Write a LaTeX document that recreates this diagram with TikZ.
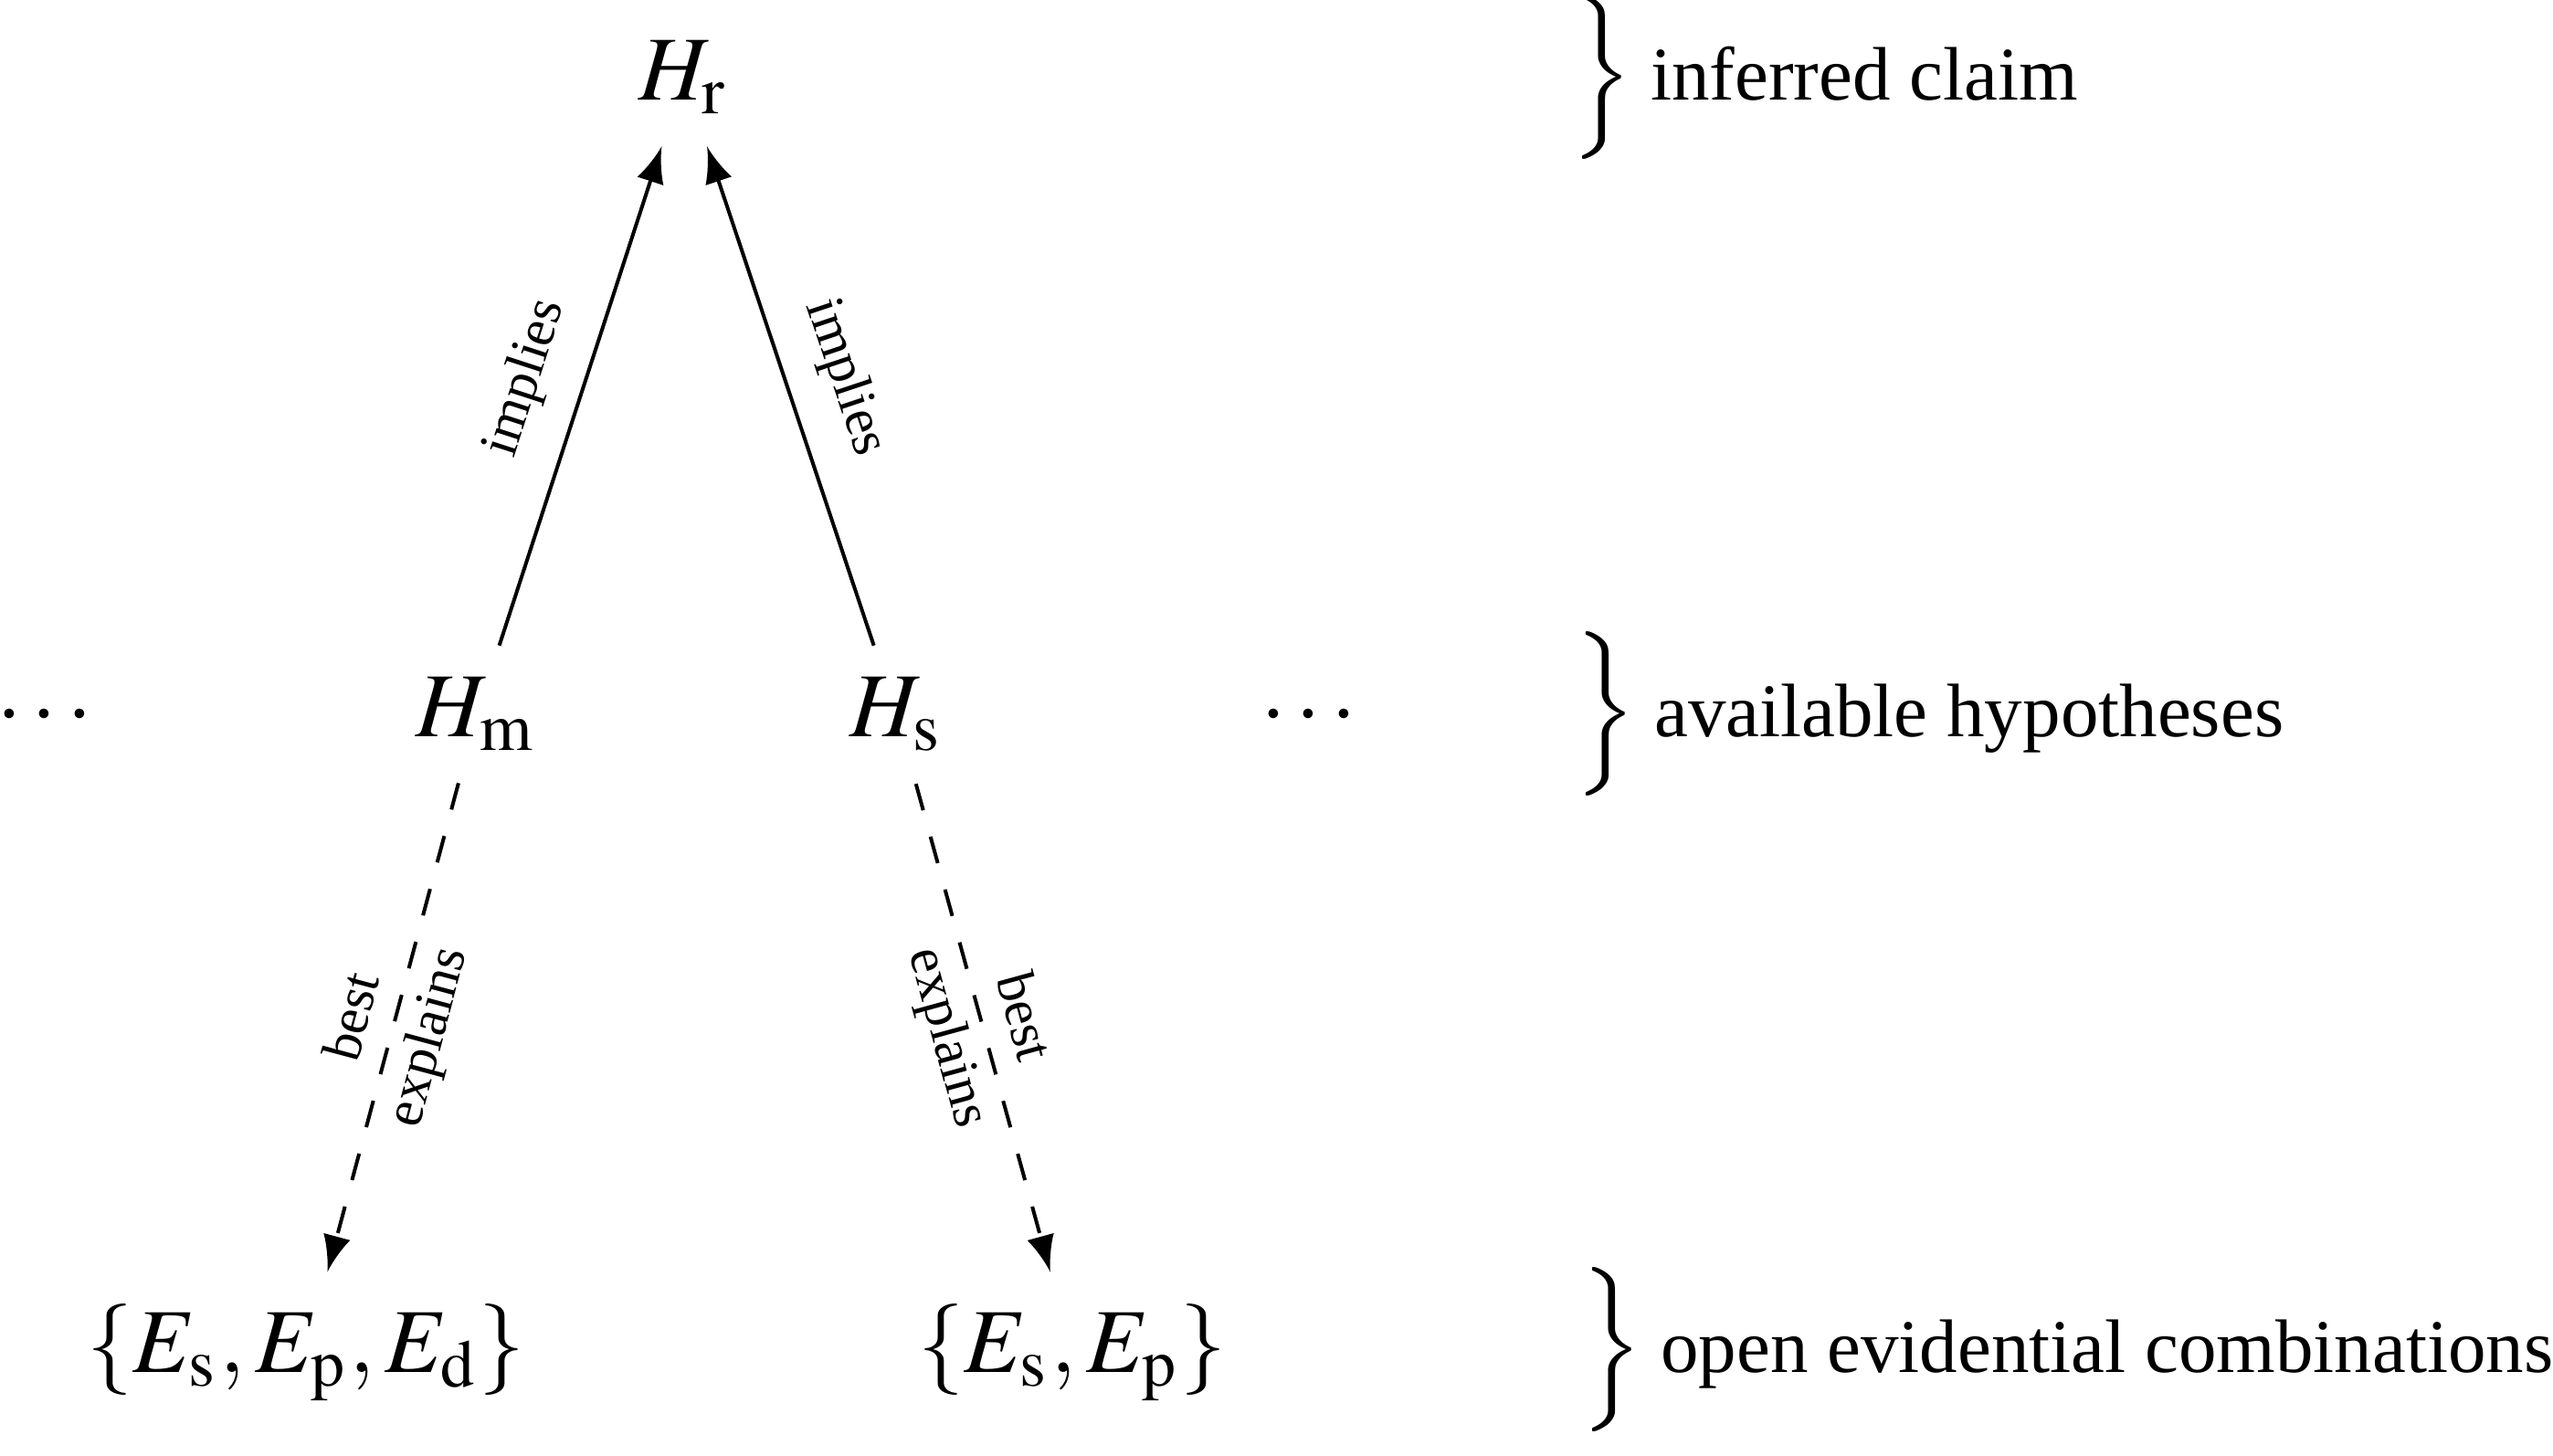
\documentclass[tikz,border=0pt]{standalone}
\usepackage{mathptmx}
\usepackage{fontspec}
\setmainfont{Liberation Serif}
\begin{document}
\begin{tikzpicture}[>=latex,
                    hyp/.style   = {anchor = base},
                    rel/.style   = {font = \fontsize{6}{8.4}\selectfont, sloped, align = center},
                    level/.style = {anchor = base west, inner sep = 0pt, font = \fontsize{8.3}{10}\selectfont}]
                    \useasboundingbox (0, 0) rectangle (9.823, 5.602);

                    \node[hyp] (hr) at (2.632, 5.216) {$H_\mathrm{r}$};
                    \node[hyp] (hm) at (1.835, 2.766) {$H_\mathrm{m}$};
                    \node[hyp] (hs) at (3.451, 2.766) {$H_\mathrm{s}$};
                    \node[hyp] (dl) at (0.172, 2.766) {$\cdots$};
                    \node[hyp] (dr) at (5.036, 2.766) {$\cdots$};
                    \node[hyp] (el) at (1.177, 0.323) {$\{E_\mathrm{s}, E_\mathrm{p}, E_\mathrm{d}\}$};
                    \node[hyp] (er) at (4.126, 0.323) {$\{E_\mathrm{s}, E_\mathrm{p}\}$};

                    \draw[->] (hm) -- node[rel, above] {implies} (hr);
                    \draw[->] (hs) -- node[rel, above] {implies} (hr);

                    \draw[->, dashed] (hm) -- node[rel] {best\\explains} (el);
                    \draw[->, dashed] (hs) -- node[rel] {best\\explains} (er);

                    % levels on the right
                    \node[level] (t1) at (6.040, 5.216) {{\normalsize$\Big\}$}\hspace{2pt}inferred claim};
                    \node[level] (t2) at (6.054, 2.766) {{\normalsize$\Big\}$}\hspace{2pt}available hypotheses};
                    \node[level] (t3) at (6.079, 0.323) {{\normalsize$\Big\}$}\hspace{2pt}open evidential combinations};
                \end{tikzpicture}
\end{document}
